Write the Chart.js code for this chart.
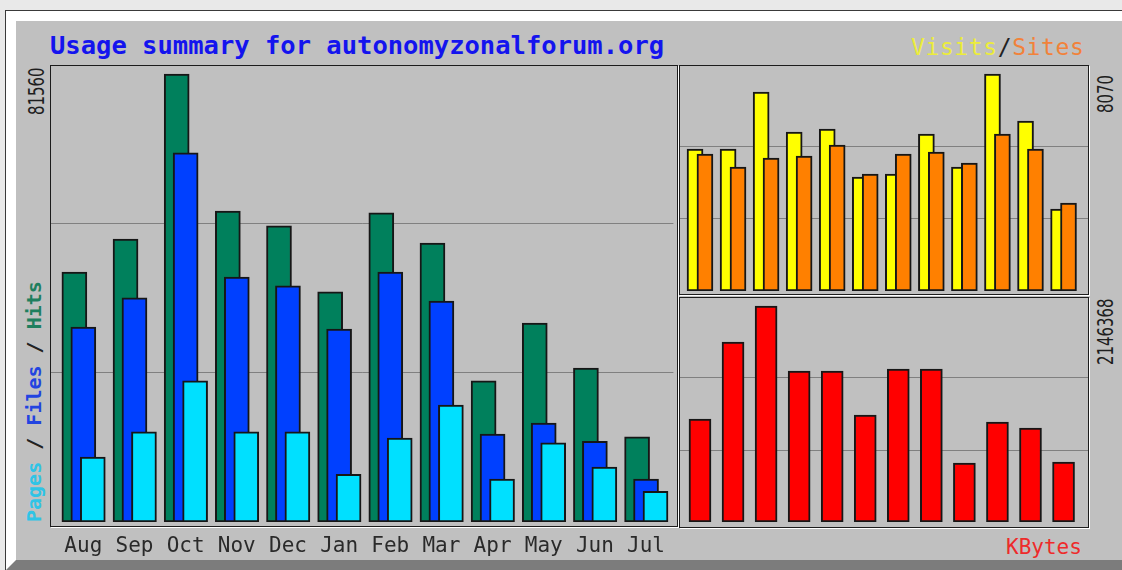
<!DOCTYPE html>
<html>
<head>
<meta charset="utf-8">
<script src="https://cdn.jsdelivr.net/npm/chart.js@4.4.1/dist/chart.umd.min.js"></script>
<style>
  body { margin: 0; width: 1122px; height: 570px; overflow: hidden; background: #e9e9e9; position: relative; }
  #frame { position: absolute; left: 5px; top: 10px; width: 1200px; height: 600px; border-left: 1px solid #3a3a3a; border-top: 1px solid #3a3a3a; }
  #panel { position: absolute; left: 0; top: 0; width: 1160px; height: 539px; border: 10px solid; border-color: #fff #7c7c7c #7c7c7c #fff; background: #c0c0c0; }
  .box { position: absolute; border: 1px solid #1c1c1c; box-shadow: 1px 1px 0 #fff; }
  canvas { position: absolute; }
  .txt { position: absolute; white-space: nowrap; line-height: 1; font-family: "DejaVu Sans Mono", monospace; }
  .rot { transform-origin: 0 0; transform: rotate(-90deg); }
  .num { font-family: "DejaVu Sans", sans-serif; font-size: 22px; color: #1e1e1e; transform-origin: 0 0; transform: rotate(-90deg) scaleX(0.68); }
</style>
</head>
<body>
<div id="frame"><div id="panel"></div></div>

<div class="box" style="left:50px; top:65px; width:626px; height:460px;"></div>
<div class="box" style="left:679px; top:65px; width:408px; height:228px;"></div>
<div class="box" style="left:679px; top:297px; width:408px; height:229px;"></div>

<canvas id="mainChart" width="626" height="500" style="left:51px; top:66px;"></canvas>
<canvas id="visitChart" width="408" height="225" style="left:680px; top:66px;"></canvas>
<canvas id="kbyteChart" width="408" height="224" style="left:680px; top:298px;"></canvas>

<div class="txt" style="left:50px; top:33px; font-size:25.5px; font-weight:bold; color:#1414ee;">Usage summary for autonomyzonalforum.org</div>
<div class="txt" style="left:911px; top:36px; font-size:23px; letter-spacing:0.6px;"><span style="color:#ecec3c;">Visits</span><span style="color:#222;">/</span><span style="color:#f2823a;">Sites</span></div>
<div class="txt rot" style="left:24px; top:522px; font-size:20px; font-weight:bold;"><span style="color:#2fc4e6;">Pages</span><span style="color:#222;"> / </span><span style="color:#2244e0;">Files</span><span style="color:#222;"> / </span><span style="color:#1f7f5e;">Hits</span></div>
<div class="txt num" id="hitsMax" style="left:26px; top:115px;"></div>
<div class="txt num" id="visitsMax" style="left:1095px; top:113px;"></div>
<div class="txt num" id="kbytesMax" style="left:1095px; top:365px;"></div>
<div class="txt" style="left:1006px; top:537px; font-size:21px; color:#ee2a2a;">KBytes</div>

<script>
// monthly figures
const months = ['Aug', 'Sep', 'Oct', 'Nov', 'Dec', 'Jan', 'Feb', 'Mar', 'Apr', 'May', 'Jun', 'Jul'];
const hits   = [45500, 51500, 81560, 56600, 53900, 41900, 56300, 50800, 25700, 36200, 28000, 15500];
const files  = [35500, 40800, 67200, 44600, 43000, 35100, 45500, 40200, 16000, 18000, 14700, 7800];
const pages  = [11800, 16400, 25700, 16400, 16400, 8700, 15300, 21300, 7800, 14400, 10000, 5600];
const visits = [5281, 5281, 7401, 5913, 6025, 4240, 4351, 5839, 4612, 8070, 6322, 3050];
const sites  = [5095, 4612, 4946, 5021, 5430, 4351, 5095, 5169, 4760, 5839, 5281, 3273];
const kbytes = [1023500, 1789000, 2146368, 1500500, 1500500, 1063000, 1520000, 1520000, 586000, 994000, 934000, 596000];

const hitsMax = Math.max(...hits);
const visitsMax = Math.max(...visits, ...sites);
const kbytesMax = Math.max(...kbytes);

document.getElementById('hitsMax').textContent = hitsMax;
document.getElementById('visitsMax').textContent = visitsMax;
document.getElementById('kbytesMax').textContent = kbytesMax;

// one series of bars, shifted a bit inside its month slot
function barSet(values, shift, color, thickness, order) {
  return {
    data: values.map((v, i) => ({ x: i + shift, y: v })),
    backgroundColor: color,
    borderColor: '#161616',
    borderWidth: 2,
    borderSkipped: false,
    barThickness: thickness,
    grouped: false,
    order: order
  };
}

// y axis: only the two grid lines at 1/3 and 2/3 of the maximum
function yScale(max, top) {
  return {
    min: 0,
    max: top,
    border: { display: false },
    grid: { color: '#808080', lineWidth: 1, drawTicks: false },
    ticks: { display: false },
    afterBuildTicks: (scale) => { scale.ticks = [{ value: max / 3 }, { value: max * 2 / 3 }]; },
    afterFit: (scale) => { scale.width = 0; }
  };
}

const common = {
  responsive: false,
  animation: false,
  layout: { padding: 0 },
  plugins: { legend: { display: false }, tooltip: { enabled: false } }
};

// Pages / Files / Hits
new Chart(document.getElementById('mainChart').getContext('2d'), {
  type: 'bar',
  data: {
    datasets: [
      barSet(pages, 0.185, '#00e0ff', 25, 0),
      barSet(files, 0, '#0040ff', 25, 1),
      barSet(hits, -0.175, '#00805c', 25, 2)
    ]
  },
  options: {
    ...common,
    scales: {
      x: {
        type: 'linear',
        offset: false,
        min: -0.632,
        max: 11.535,
        border: { display: false },
        grid: { display: false, drawTicks: false },
        ticks: {
          padding: 12,
          color: '#2a2a2a',
          font: { family: 'DejaVu Sans Mono', size: 21 },
          autoSkip: false,
          maxRotation: 0,
          callback: (value) => months[value]
        },
        afterBuildTicks: (scale) => { scale.ticks = months.map((m, i) => ({ value: i })); },
        afterFit: (scale) => { scale.height = 44; }
      },
      y: yScale(hitsMax, hitsMax * 456 / 448)
    }
  }
});

// Visits / Sites
new Chart(document.getElementById('visitChart').getContext('2d'), {
  type: 'bar',
  data: {
    datasets: [
      barSet(sites, 0.15, '#ff8000', 16, 0),
      barSet(visits, -0.15, '#ffff00', 16, 1)
    ]
  },
  options: {
    ...common,
    scales: {
      x: { type: 'linear', offset: false, min: -0.605, max: 11.74, display: false },
      y: yScale(visitsMax, visitsMax * 225 / 217)
    }
  }
});

// KBytes
new Chart(document.getElementById('kbyteChart').getContext('2d'), {
  type: 'bar',
  data: {
    datasets: [barSet(kbytes, 0, '#ff0000', 22, 0)]
  },
  options: {
    ...common,
    scales: {
      x: { type: 'linear', offset: false, min: -0.605, max: 11.74, display: false },
      y: yScale(kbytesMax, kbytesMax * 224 / 216)
    }
  }
});
</script>
</body>
</html>
